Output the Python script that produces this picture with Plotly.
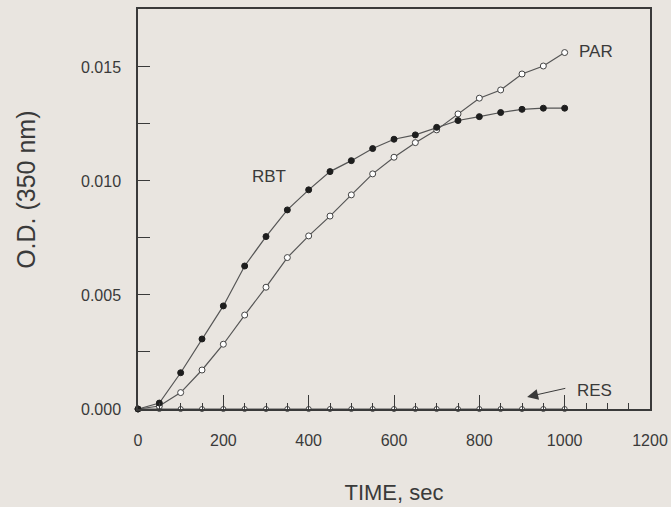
import plotly.graph_objects as go

time_s = [0, 50, 100, 150, 200, 250, 300, 350, 400, 450, 500, 550, 600, 650, 700, 750, 800, 850, 900, 950, 1000]
rbt = [0.0, 0.00026, 0.00159, 0.00307, 0.00452, 0.00627, 0.00756, 0.00873, 0.00961, 0.01041, 0.01089,
       0.01142, 0.01183, 0.01202, 0.01235, 0.01265, 0.01282, 0.01300, 0.01314, 0.01319, 0.01319]
par = [0.0, 0.00013, 0.00072, 0.00171, 0.00284, 0.00412, 0.00534, 0.00664, 0.00759, 0.00846, 0.00939,
       0.01031, 0.01104, 0.01168, 0.01224, 0.01294, 0.01363, 0.01399, 0.01469, 0.01504, 0.01563]
res = [0.0] * 21

x_ticks = [0, 200, 400, 600, 800, 1000, 1200]
y_ticks = [0.000, 0.005, 0.010, 0.015]
y_tick_text = ["0.000", "0.005", "0.010", "0.015"]

BG = "#e9e5e0"
INK = "#3a3a3a"
FONT = "Liberation Sans, Arial, sans-serif"

fig = go.Figure()
fig.add_trace(go.Scatter(x=time_s, y=res, mode="lines+markers", cliponaxis=False,
                         line=dict(color="#555555", width=1.2),
                         marker=dict(symbol="circle", size=5, color="white",
                                     line=dict(color="#444444", width=1))))
fig.add_trace(go.Scatter(x=time_s, y=par, mode="lines+markers", cliponaxis=False,
                         line=dict(color="#555555", width=1.2),
                         marker=dict(symbol="circle", size=6, color="white",
                                     line=dict(color="#444444", width=1))))
fig.add_trace(go.Scatter(x=time_s, y=rbt, mode="lines+markers", cliponaxis=False,
                         line=dict(color="#555555", width=1.2),
                         marker=dict(symbol="circle", size=6, color="#1e1e1e",
                                     line=dict(color="#1e1e1e", width=1))))

fig.add_annotation(x=306, y=0.01018, text="RBT", showarrow=False,
                   font=dict(family=FONT, size=17, color=INK))
fig.add_annotation(x=1029, y=0.01566, text="PAR", showarrow=False, xanchor="left",
                   font=dict(family=FONT, size=17, color=INK))
fig.add_annotation(x=1025, y=0.00079, text="RES", showarrow=False, xanchor="left",
                   font=dict(family=FONT, size=17, color=INK))
fig.add_annotation(x=912, y=0.00053, ax=1005, ay=0.00092, axref="x", ayref="y",
                   text="", showarrow=True, arrowhead=2, arrowsize=2.2, arrowwidth=1,
                   arrowcolor=INK)
# y-axis title
fig.add_annotation(xref="paper", yref="paper", x=-0.219, y=0.5475, text="O.D. (350 nm)",
                   textangle=-90, showarrow=False, xanchor="center", yanchor="middle",
                   font=dict(family=FONT, size=25, color=INK))

fig.update_layout(
    width=671, height=507,
    margin=dict(l=138, r=21, t=9, b=98, autoexpand=False),
    paper_bgcolor=BG, plot_bgcolor=BG,
    showlegend=False,
    font=dict(family=FONT, color=INK, size=16),
)
fig.update_xaxes(
    range=[0, 1200], tickvals=x_ticks, ticks="inside", ticklen=14, tickwidth=1.2,
    tickcolor=INK, showline=True, linecolor=INK, linewidth=1.5, mirror=True,
    showgrid=False, zeroline=False, ticklabelstandoff=16, automargin=False,
    minor=dict(dtick=50, tick0=0, ticks="inside", ticklen=6, tickcolor=INK, tickwidth=1),
    title=dict(text="TIME, sec", font=dict(size=22), standoff=37),
    tickfont=dict(size=16),
)
fig.update_yaxes(
    range=[0, 0.01754], tickvals=y_ticks, ticktext=y_tick_text, ticks="inside", ticklen=12,
    tickwidth=1.2, tickcolor=INK, showline=True, linecolor=INK, linewidth=1.5, mirror=True,
    showgrid=False, zeroline=False, ticklabelstandoff=12, automargin=False,
    minor=dict(dtick=0.0025, tick0=0, ticks="inside", ticklen=12, tickcolor=INK, tickwidth=1.2),
    tickfont=dict(size=16),
)

fig.write_html("out.html", config={"displayModeBar": False},
               post_script="document.body.style.margin='0';document.body.style.background='%s';" % BG)
